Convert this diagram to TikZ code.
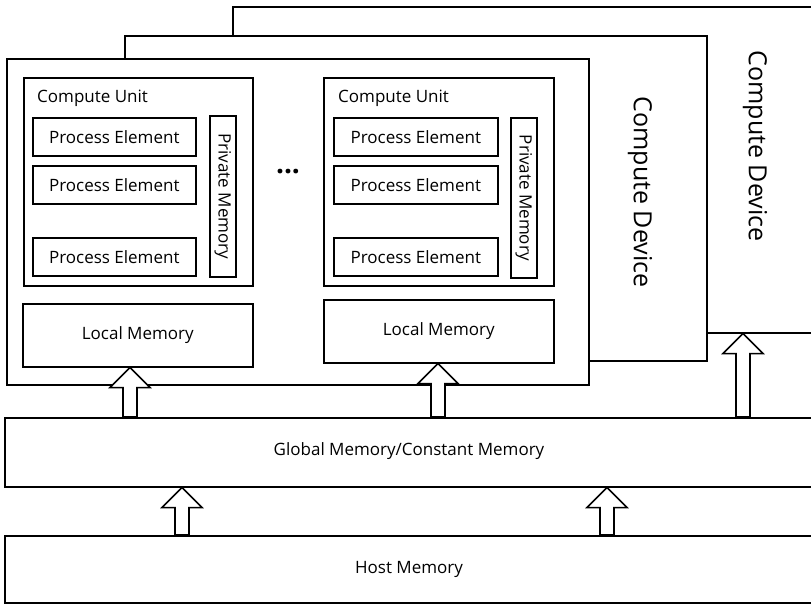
\documentclass[tikz,border=0pt]{standalone}
\usepackage{fontspec}
\setmainfont{Open Sans}
\usetikzlibrary{calc}
\newcommand\blkarr[2]{\draw[barrow] (#1) -- ++(20,20) -- ++(-13,0) -- ($(#2)+(7,0)$) -- ($(#2)+(-7,0)$) -- ($(#1)+(-7,20)$) -- ++(-13,0) -- cycle;}
\begin{document}
\begin{tikzpicture}[x=1pt,y=-1pt,
  box/.style={draw, line width=1.6pt, fill=white, inner sep=0pt, anchor=north west},
  txt/.style={font=\fontsize{17}{20}\selectfont},
  big/.style={font=\fontsize{25}{30}\selectfont, rotate=-90},
  barrow/.style={draw, line width=1.6pt, fill=white, line join=miter}]
\useasboundingbox (0,0) rectangle (811,604);
\fill[white] (0,0) rectangle (811,604);
\begin{scope}
\clip (0,0) rectangle (811,604);
% compute devices (back to front)
\node[box, minimum width=600pt, minimum height=326pt] (dev3) at (232,6) {};
\node[big] (cd3) at (755,146) {Compute Device};
\node[box, minimum width=582pt, minimum height=325pt] (dev2) at (124,35) {};
\node[big] (cd2) at (640,192) {Compute Device};
\node[box, minimum width=582pt, minimum height=326pt] (dev1) at (6,58) {};
% compute unit 1
\node[box, minimum width=229pt, minimum height=208pt] (cu1) at (23,77) {};
\node[txt, anchor=west, inner sep=0pt] (cu1l) at (37,98) {Compute Unit};
\node[box, txt, minimum width=163pt, minimum height=38pt] (pe11) at (32,117) {Process Element};
\node[box, txt, minimum width=163pt, minimum height=38pt] (pe12) at (32,165) {Process Element};
\node[box, txt, minimum width=163pt, minimum height=38pt] (pe13) at (32,237) {Process Element};
\node[box, minimum width=26pt, minimum height=161pt] (pm1) at (209,115) {};
\node[txt, rotate=-90] (pm1l) at (pm1.center) {Private Memory};
\node[box, txt, minimum width=230pt, minimum height=63pt] (lm1) at (22,303) {Local Memory};
% dots
\node[font=\fontsize{28}{30}\selectfont\bfseries] (dots) at (288,172) {...};
% compute unit 2
\node[box, minimum width=230pt, minimum height=208pt] (cu2) at (323,77) {};
\node[txt, anchor=west, inner sep=0pt] (cu2l) at (338,98) {Compute Unit};
\node[box, txt, minimum width=164pt, minimum height=38pt] (pe21) at (333,117) {Process Element};
\node[box, txt, minimum width=164pt, minimum height=38pt] (pe22) at (333,165) {Process Element};
\node[box, txt, minimum width=164pt, minimum height=38pt] (pe23) at (333,237) {Process Element};
\node[box, minimum width=26pt, minimum height=160pt] (pm2) at (510,117) {};
\node[txt, rotate=-90] (pm2l) at (pm2.center) {Private Memory};
\node[box, txt, minimum width=230pt, minimum height=63pt] (lm2) at (323,299) {Local Memory};
% memories
\node[box, minimum width=830pt, minimum height=69pt] (glob) at (4,417) {};
\node[txt] (globl) at (409,451) {Global Memory/Constant Memory};
\node[box, minimum width=830pt, minimum height=67pt] (host) at (4,535) {};
\node[txt] (hostl) at (409,569) {Host Memory};
% arrows
\coordinate (x1) at (130,0);
\coordinate (x2) at (438,0);
\coordinate (x3) at (743,0);
\coordinate (x4) at (182,0);
\coordinate (x5) at (607,0);
\coordinate (t1) at (lm1.south -| x1);
\coordinate (b1) at (glob.north -| x1);
\coordinate (t2) at (lm2.south -| x2);
\coordinate (b2) at (glob.north -| x2);
\coordinate (t3) at (dev3.south -| x3);
\coordinate (b3) at (glob.north -| x3);
\coordinate (t4) at (glob.south -| x4);
\coordinate (b4) at (host.north -| x4);
\coordinate (t5) at (glob.south -| x5);
\coordinate (b5) at (host.north -| x5);
\blkarr{t1}{b1}
\blkarr{t2}{b2}
\blkarr{t3}{b3}
\blkarr{t4}{b4}
\blkarr{t5}{b5}
\end{scope}
\end{tikzpicture}
\end{document}
